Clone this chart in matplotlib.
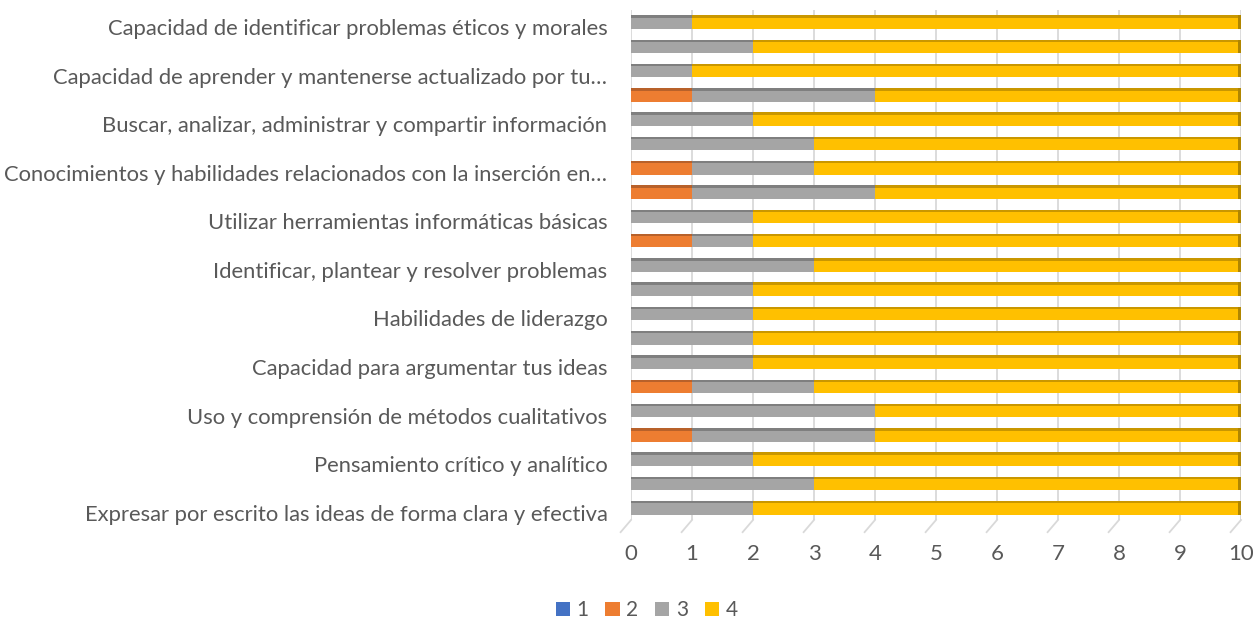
import matplotlib.pyplot as plt
import numpy as np
from matplotlib.patches import Patch

# Labels shown on the axis (Excel hides every other one), listed bottom to top
labels = [
    "Expresar por escrito las ideas de forma clara y efectiva",
    "Pensamiento crítico y analítico",
    "Uso y comprensión de métodos cualitativos",
    "Capacidad para argumentar tus ideas",
    "Habilidades de liderazgo",
    "Identificar, plantear y resolver problemas",
    "Utilizar herramientas informáticas básicas",
    "Conocimientos y habilidades relacionados con la inserción en…",
    "Buscar, analizar, administrar y compartir información",
    "Capacidad de aprender y mantenerse actualizado por tu…",
    "Capacidad de identificar problemas éticos y morales",
]

# Values per bar, bottom to top (21 bars)
s1 = [0] * 21
s2 = [0, 0, 0, 1, 0, 1, 0, 0, 0, 0, 0, 1, 0, 1, 1, 0, 0, 1, 0, 0, 0]
s3 = [2, 3, 2, 3, 4, 2, 2, 2, 2, 2, 3, 1, 2, 3, 2, 3, 2, 3, 1, 2, 1]
s4 = [8, 7, 8, 6, 6, 7, 8, 8, 8, 8, 7, 8, 8, 6, 7, 7, 8, 6, 9, 8, 9]
series_names = ["1", "2", "3", "4"]

colors = ["#4472C4", "#ED7D31", "#A5A5A5", "#FFC000"]
tops = ["#2f528f", "#b8612a", "#7f7f7f", "#c99700"]
text_color = "#595959"

plt.rcParams["font.family"] = ["Lato", "DejaVu Sans"]

fig = plt.figure(figsize=(12.53, 6.22), dpi=100)
ax = fig.add_axes([0.5036, 0.164, 0.4868, 0.820])

y = np.arange(len(s2))
bh = 0.56
left = np.zeros(len(y))
for vals, c, tc in zip([s1, s2, s3, s4], colors, tops):
    vals = np.array(vals, dtype=float)
    ax.barh(y, vals, left=left, height=bh, color=c, zorder=3)
    # thin darker strip on the top face for the 3D look
    ax.barh(y + bh / 2 - 0.05, vals, left=left, height=0.1, color=tc, zorder=4)
    left = left + vals

# right end caps of the bars
ax.barh(y, 0.05, left=left - 0.05, height=bh, color="#b08600", zorder=5)

ax.set_xlim(0, 10)
ax.set_ylim(-0.5, len(y) - 0.5)
ax.set_xticks(range(11))
ax.set_yticks(y[::2] - 0.2)
ax.set_yticklabels(labels)

for xv in range(11):
    ax.axvline(xv, color="#d9d9d9", lw=1.3, zorder=1)
    ax.plot([xv, xv - 0.17], [-0.5, -1.0], color="#d9d9d9", lw=1.3, clip_on=False, zorder=1)

for s in ax.spines.values():
    s.set_visible(False)
ax.tick_params(axis="y", length=0, pad=17, labelsize=15.8, labelcolor=text_color)
ax.tick_params(axis="x", length=0, pad=17, labelsize=16, labelcolor=text_color)

handles = [Patch(facecolor=c) for c in colors]
fig.legend(handles, series_names, loc="center", bbox_to_anchor=(0.516, 0.019), ncol=4,
           frameon=False, fontsize=15, labelcolor=text_color, handlelength=0.7,
           handleheight=0.7, handletextpad=0.3, columnspacing=0.8)

fig.savefig("out.png", dpi=100)
